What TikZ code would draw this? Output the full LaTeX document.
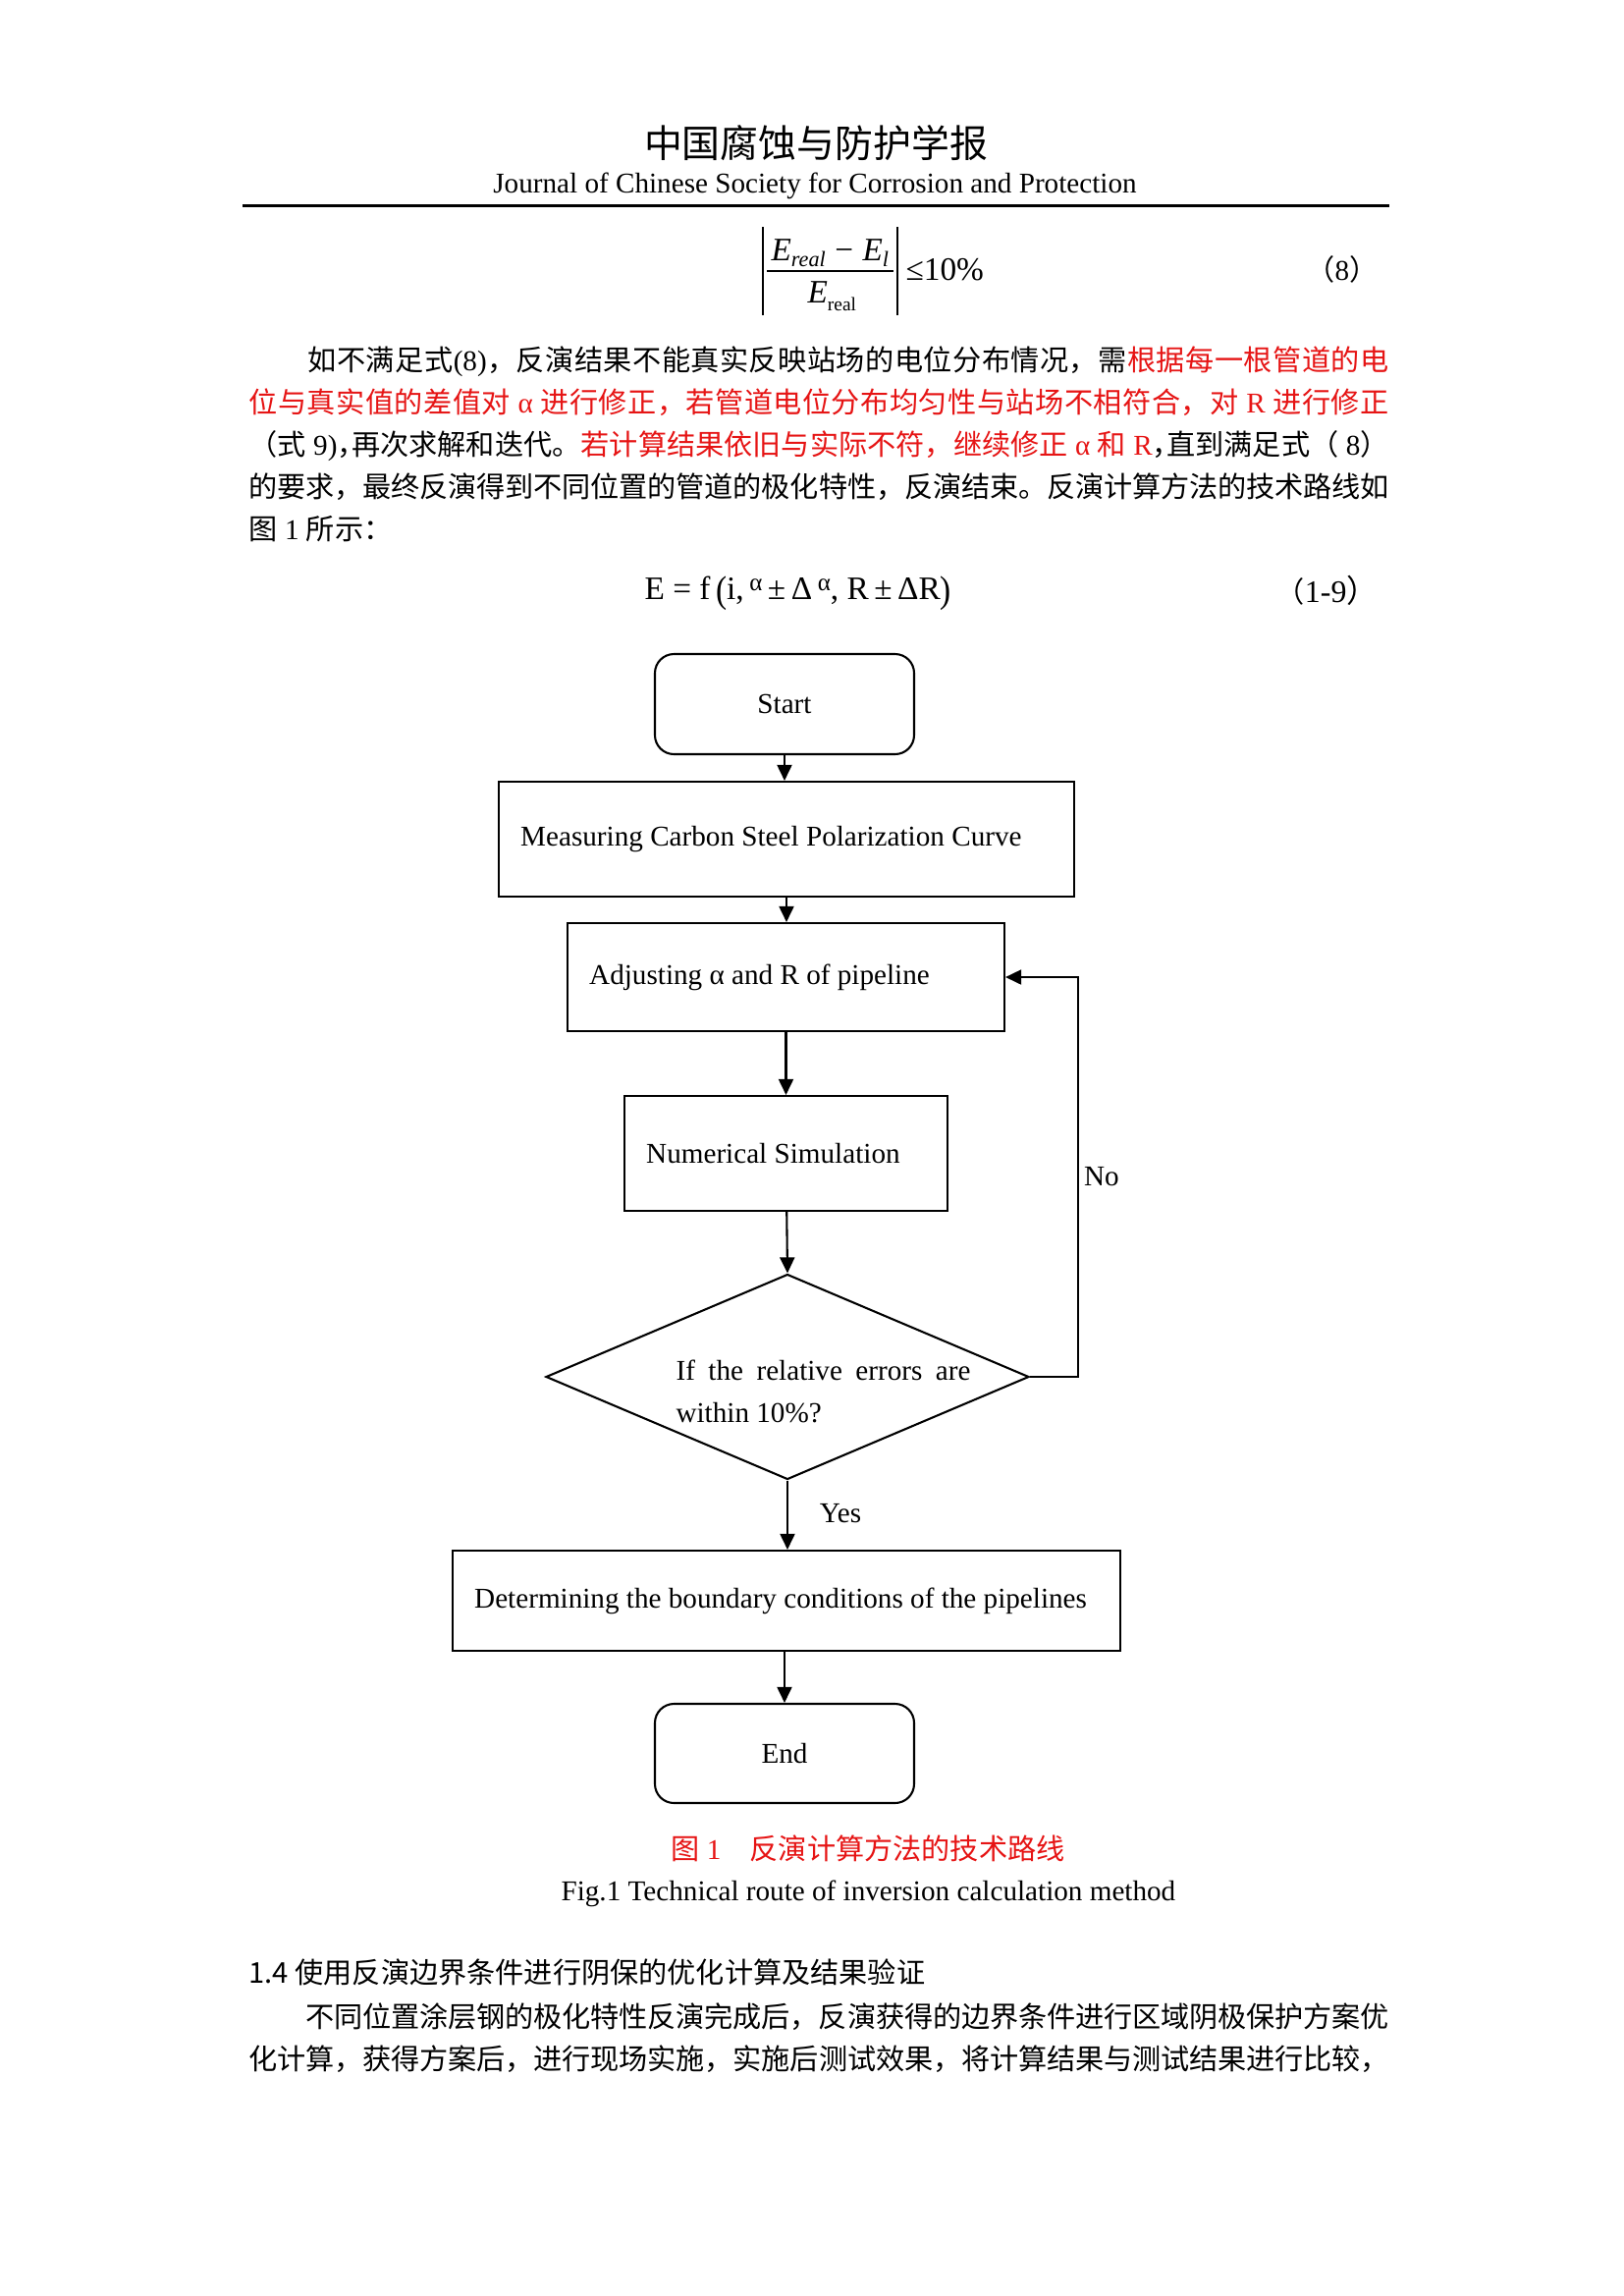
\documentclass[tikz,border=0pt]{standalone}
\usepackage{fontspec}
\usepackage{graphicx}
\setmainfont{Liberation Serif}
\newfontfamily\cjk{Noto Sans CJK SC}
\newfontfamily\cjkh[RawFeature=+halt]{Noto Sans CJK SC}
\usetikzlibrary{arrows.meta,shapes.geometric}
\definecolor{cred}{RGB}{230,20,20}
\newcommand\fsb{\fontsize{10.5}{12.6}\selectfont}
\newcommand\smalpha{\raisebox{3pt}{\fontsize{9}{9}\selectfont α}}
\newcommand\bigparen[1]{\raisebox{-1.3pt}{\scalebox{1}[1.15]{#1}}}
\makeatletter
\def\cjkglue{\hskip0pt plus 1fil minus 0.6pt\relax}
\def\cjkspread#1{\cjk@first#1\relax}
\def\cjk@first#1{#1\cjk@next}
\def\cjk@next#1{\ifx\relax#1\else\cjkglue#1\expandafter\cjk@next\fi}
\makeatother
\begin{document}
\begin{tikzpicture}[x=0.36pt,y=-0.36pt,
  every node/.style={inner sep=0pt, font=\fsb},
  box/.style={draw, line width=0.75pt, inner xsep=8pt, inner ysep=0pt, align=flush left},
  term/.style={draw, line width=0.75pt, rounded corners=7pt, align=center,
    minimum width=95.04pt},
  arr/.style={line width=0.75pt, -{Triangle[length=5.8pt,width=5.4pt]}},
  body/.style={anchor=base west, inner sep=0pt},
  lbl/.style={inner sep=0pt},
]
\useasboundingbox (0,0) rectangle (1653,2338);
\fill[white] (0,0) rectangle (1653,2338);

% ---------- header ----------
\node[anchor=base] (hcn) at (831,160) {\fontsize{14}{14}\selectfont\cjk 中国腐蚀与防护学报};
\node[anchor=base] (hen) at (830,196) {Journal of Chinese Society for Corrosion and Protection};
\draw[line width=1pt] (247,209.5) -- (1415,209.5);

% ---------- equation (8) ----------
\draw[line width=0.5pt] (777,231) -- (777,321);
\draw[line width=0.5pt] (914,231) -- (914,321);
\draw[line width=0.6pt] (781,276) -- (910,276);
\node[body] (eqnum) at (785,265) {\fontsize{12}{12}\selectfont\textit{E}\raisebox{-2.5pt}{\fontsize{8}{8}\selectfont\textit{real}}\hspace{3.4pt}−\hspace{3.4pt}\textit{E}\raisebox{-2.5pt}{\fontsize{8}{8}\selectfont\textit{l}}};
\node[body] (eqden) at (822,308) {\fontsize{12}{12}\selectfont\textit{E}\raisebox{-3pt}{\fontsize{7}{7}\selectfont real}};
\node[body] (eqle) at (922,285) {\fontsize{12}{12}\selectfont ≤10\%};
\node[anchor=base east] (eq8no) at (1404,285) {{\cjk （}8{\cjk ）}};

% ---------- paragraph ----------
\node[body] (p1) at (313,377) {\hbox to 396.36pt{{\cjk\cjkspread{如不满足式}}\cjkglue(8)\cjkglue{\cjk\cjkspread{，反演结果不能真实反映站场的电位分布情况，需}}\cjkglue{\color{cred}\cjk\cjkspread{根据每一根管道的电}}}};
\node[body] (p2) at (253,420) {\hbox to 417.96pt{\color{cred}{\cjk\cjkspread{位与真实值的差值对}}\cjkglue\ α\ \cjkglue{\cjk\cjkspread{进行修正，若管道电位分布均匀性与站场不相符合，对}}\cjkglue\ R\ \cjkglue{\cjk\cjkspread{进行修正}}}};
\node[body] (p3) at (253,463) {\hbox to 417.96pt{{\cjk\cjkspread{（式}}\ 9)\cjkglue{\cjkh ，}\cjkglue{\cjk\cjkspread{再次求解和迭代。}}\cjkglue{\color{cred}\cjk\cjkspread{若计算结果依旧与实际不符，继续修正}}\cjkglue\ {\color{cred}α}\ \cjkglue{\color{cred}\cjk 和}\cjkglue\ {\color{cred}R}\cjkglue{\cjkh ，}\cjkglue{\cjk\cjkspread{直到满足式（}}\ 8\cjkglue{\cjk ）}}};
\node[body] (p4) at (253,506) {\hbox to 417.96pt{\cjk\cjkspread{的要求，最终反演得到不同位置的管道的极化特性，反演结束。反演计算方法的技术路线如}}};
\node[body] (p5) at (253,549) {{\cjk 图} 1 {\cjk 所示：}};

% ---------- equation (1-9) ----------
\node[body] (eqf) at (656,610) {\fontsize{12}{12}\selectfont E = f\,\bigparen{(}i,\,\smalpha\,±\,Δ\,\smalpha, R\,±\,ΔR\bigparen{)}};
\node[anchor=base east] (eq19no) at (1404,613) {{\cjk （}\fontsize{11.5}{12}\selectfont 1-9{\cjk ）}};

% ---------- flowchart ----------
\node[term, minimum height=36.72pt] (start) at (799,717) {Start};
\node[box, text width=194.96pt, minimum height=42.12pt] (meas) at (801,854.5) {Measuring Carbon Steel Polarization Curve};
\node[box, text width=144.2pt, minimum height=39.6pt] (adj) at (800.5,995) {Adjusting α and R of pipeline};
\node[box, text width=102.44pt, minimum height=42.12pt] (num) at (800.5,1174.5) {Numerical Simulation};
\node[draw, diamond, line width=0.75pt, minimum width=177.12pt, minimum height=75.24pt, inner sep=0pt] (dec) at (802,1402) {};
\node[body] (dect1) at (688,1405) {\makebox[108pt][s]{If the relative errors are}};
\node[body] (dect2) at (688,1448) {within 10\%?};
\node[box, text width=228.8pt, minimum height=36.72pt] (det) at (801,1630) {Determining the boundary conditions of the pipelines};
\node[term, minimum height=36.36pt] (end) at (799,1785.5) {End};

\coordinate (fb) at (1098,1200);
\draw[arr] (start) -- (start |- meas.north);
\draw[arr] (meas) -- (meas |- adj.north);
\draw[arr] (adj) -- (adj |- num.north);
\draw[arr] (num) -- (dec.north);
\draw[arr] (dec.south) -- (dec.south |- det.north);
\draw[arr] (det.south -| end) -- (end.north);
\draw[arr] (dec.east) -- (dec.east -| fb) -- (fb |- adj.east) -- (adj.east);
\node[lbl] (no) at (1122,1198) {No};
\node[lbl] (yes) at (856,1541) {Yes};

% ---------- captions ----------
\node[anchor=base] (capcn) at (884,1893) {\color{cred}{\cjk 图} 1{\cjk 　反演计算方法的技术路线}};
\node[body] (capen) at (571,1935) {Fig.1 Technical route of inversion calculation method};

% ---------- next section ----------
\node[body] (sec) at (253,2019) {\cjk 1.4 使用反演边界条件进行阴保的优化计算及结果验证};
\node[body] (q1) at (311,2064) {\hbox to 397.08pt{\cjk\cjkspread{不同位置涂层钢的极化特性反演完成后，反演获得的边界条件进行区域阴极保护方案优}}};
\node[body] (q2) at (253,2107) {\hbox to 417.96pt{\cjk\cjkspread{化计算，获得方案后，进行现场实施，实施后测试效果，将计算结果与测试结果进行比较，}}};
\end{tikzpicture}
\end{document}
